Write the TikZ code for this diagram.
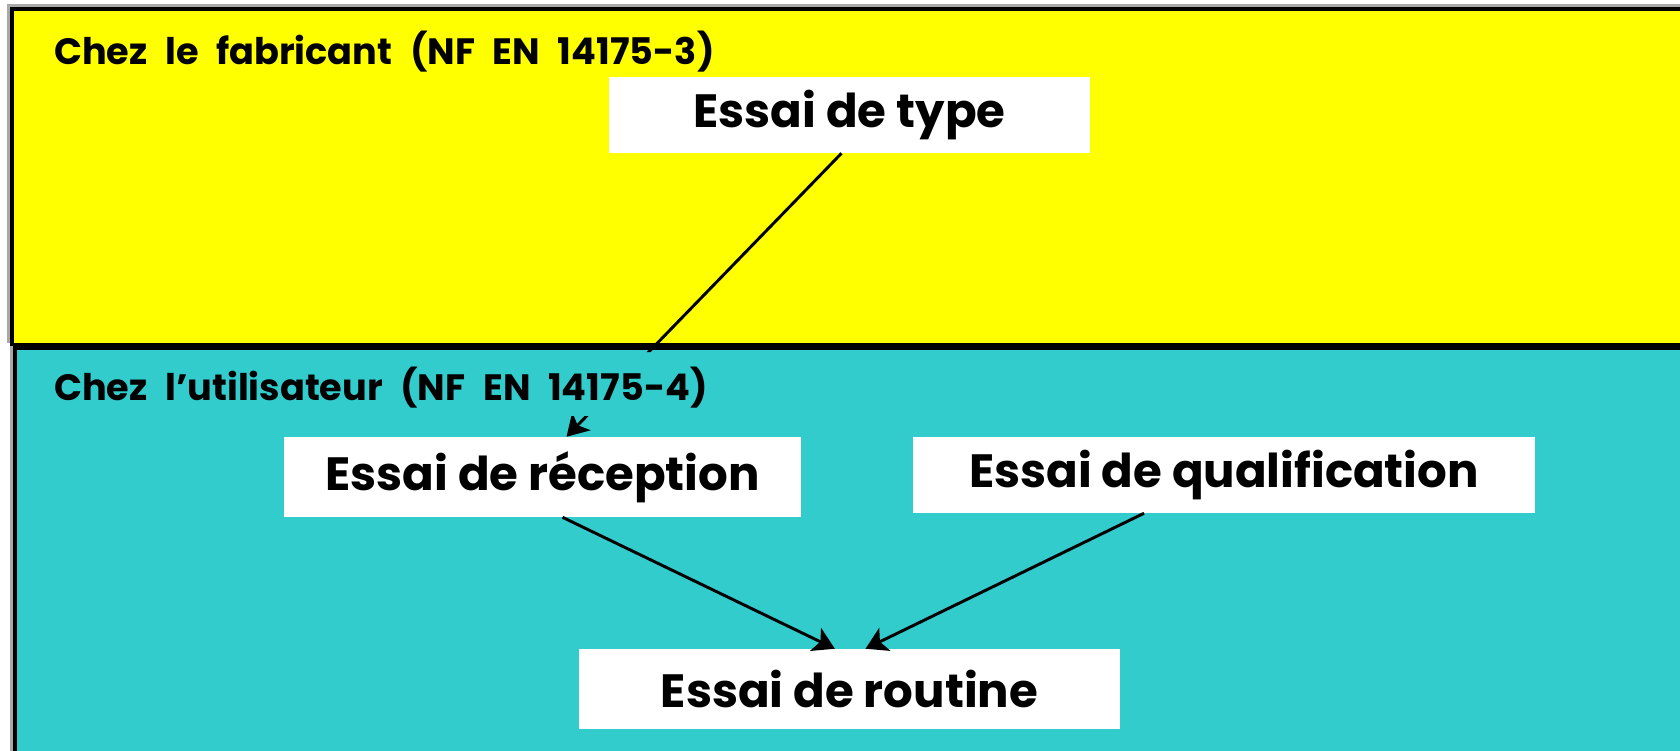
\documentclass[tikz,border=0pt]{standalone}
\usepackage{fontspec}
\setmainfont{Poppins}
\usetikzlibrary{arrows.meta}
\definecolor{panelyellow}{HTML}{FFFF00}
\definecolor{panelcyan}{HTML}{33CCCC}
\definecolor{shadowgray}{HTML}{A8A8A8}
\newcommand\zoneheadfont{\bfseries\fontsize{27.5}{32}\selectfont\spaceskip=0.48em plus 0.1em\relax}
\tikzset{
  panel/.style={draw=black, line width=2.4pt},
  heading/.style={anchor=west, inner sep=0pt, font=\zoneheadfont},
  testbox/.style={fill=white, draw=none, inner sep=0pt, font=\bfseries\fontsize{35}{40}\selectfont},
  flow/.style={draw=black, line width=2.2pt, -{Stealth[length=16pt,width=19pt,inset=4pt]}}
}
\begin{document}
\begin{tikzpicture}[x=0.75pt,y=-0.75pt]
\useasboundingbox (0,0) rectangle (1680,750);
\clip (0,0) rectangle (1680,750);
\fill[white] (0,0) rectangle (1680,750);

% manufacturer panel
\fill[shadowgray] (7,4) rectangle (1700,343);
\path[panel, fill=panelyellow] (12,9) rectangle (1700,345);
% user panel
\fill[shadowgray] (10,346) rectangle (1700,770);
\path[panel, fill=panelcyan] (15,348) rectangle (1700,770);

\node[heading] (fab) at (54,52) {Chez le fabricant (NF EN 14175-3)};
\node[heading] (util) at (54,388) {Chez l’utilisateur (NF EN 14175-4)};

\node[testbox, minimum width=360.75pt, minimum height=57pt] (type) at (849.5,115) {Essai de type};
\node[testbox, minimum width=387.75pt, minimum height=60pt] (reception) at (542.5,477) {Essai de réception};
\node[testbox, minimum width=466.5pt, minimum height=57pt] (qualif) at (1224,475) {Essai de qualification};
\node[testbox, minimum width=405.75pt, minimum height=60pt] (routine) at (849.5,689) {Essai de routine};

\draw[flow] ([xshift=15pt]reception.south) -- ([xshift=-11pt]routine.north);
\draw[flow] ([xshift=-60pt]qualif.south) -- ([xshift=12pt]routine.north);

% the link from the manufacturer passes under the user panel
\begin{scope}
  \clip (0,0) rectangle (1680,352) (545,416) rectangle (610,440);
  \draw[flow] ([xshift=-6pt]type.south) -- ([xshift=18pt]reception.north);
\end{scope}
\end{tikzpicture}
\end{document}
